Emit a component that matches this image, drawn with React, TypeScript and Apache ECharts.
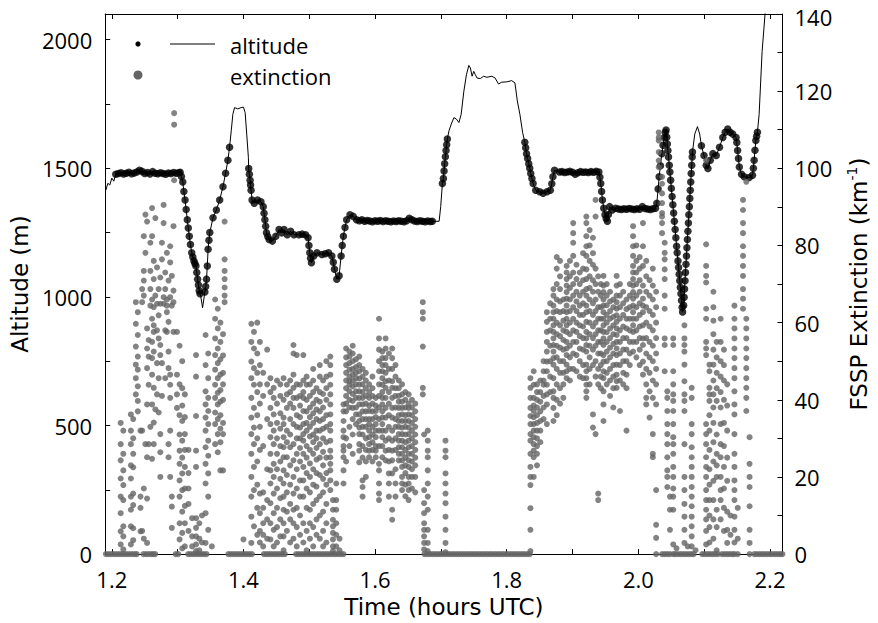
import React, { useEffect, useRef } from 'react';
import * as echarts from 'echarts';

// ---- axis ticks / labels ----
const timeLabelValues = [1.2, 1.4, 1.6, 1.8, 2.0, 2.2];
const timeTickValues = [1.2, 1.3, 1.4, 1.5, 1.6, 1.7, 1.8, 1.9, 2.0, 2.1, 2.2];
const altLabelValues = [0, 500, 1000, 1500, 2000];
const altTickValues = [0, 250, 500, 750, 1000, 1250, 1500, 1750, 2000];
const extLabelValues = [0, 20, 40, 60, 80, 100, 120, 140];
const extTickValues = [0, 10, 20, 30, 40, 50, 60, 70, 80, 90, 100, 110, 120, 130, 140];

// ---- altitude trace [time (h UTC), altitude (m)] ----
const altitudeTrace: [number, number][] = [
  [1.191, 1415], [1.194, 1442], [1.197, 1435], [1.2, 1462], [1.203, 1450], [1.206, 1477],
  [1.21, 1480], [1.214, 1483], [1.218, 1478], [1.222, 1481], [1.226, 1485], [1.23, 1479],
  [1.234, 1482], [1.238, 1486], [1.242, 1492], [1.246, 1488], [1.25, 1480], [1.254, 1484],
  [1.258, 1478], [1.262, 1487], [1.266, 1481], [1.27, 1479], [1.274, 1483], [1.278, 1480],
  [1.282, 1477], [1.286, 1482], [1.29, 1480], [1.294, 1484], [1.298, 1481], [1.302, 1483],
  [1.3038, 1485], [1.3058, 1468], [1.3078, 1447], [1.3095, 1410], [1.3113, 1377], [1.313, 1340],
  [1.3147, 1300], [1.3162, 1268], [1.3177, 1236], [1.3195, 1204], [1.3214, 1172], [1.3231, 1155],
  [1.3248, 1140], [1.3263, 1130], [1.3278, 1120], [1.3291, 1095], [1.3304, 1069], [1.3316, 1046],
  [1.3328, 1024], [1.334, 1012], [1.3353, 1000], [1.3379, 958], [1.3414, 1019], [1.3426, 1040],
  [1.3439, 1069], [1.3451, 1120], [1.3463, 1185], [1.3476, 1220], [1.3489, 1250], [1.3538, 1308],
  [1.3589, 1338], [1.3639, 1377], [1.3689, 1428], [1.3729, 1481], [1.3764, 1531], [1.3789, 1582],
  [1.3815, 1646], [1.3839, 1710], [1.3865, 1736], [1.3914, 1731], [1.3965, 1736], [1.4, 1738],
  [1.4026, 1717], [1.405, 1633], [1.4075, 1543], [1.408, 1499], [1.409, 1477], [1.4101, 1454],
  [1.4108, 1435], [1.4116, 1415], [1.4131, 1377], [1.4165, 1364], [1.4215, 1377], [1.4266, 1370],
  [1.4301, 1351], [1.4313, 1325], [1.4326, 1300], [1.4338, 1275], [1.435, 1249], [1.437, 1235],
  [1.4391, 1223], [1.444, 1217], [1.4492, 1236], [1.4541, 1262], [1.4582, 1249], [1.4617, 1262],
  [1.4666, 1242], [1.4717, 1255], [1.4767, 1242], [1.4842, 1242], [1.4892, 1244], [1.4943, 1242],
  [1.4982, 1230], [1.4995, 1200], [1.5008, 1172], [1.502, 1150], [1.5033, 1133], [1.5068, 1159],
  [1.5117, 1172], [1.5192, 1165], [1.5243, 1168], [1.5293, 1172], [1.5343, 1159], [1.5365, 1135],
  [1.5383, 1108], [1.5418, 1069], [1.5454, 1082], [1.5484, 1159], [1.5501, 1200], [1.5519, 1236],
  [1.5543, 1270], [1.5568, 1300], [1.5619, 1319], [1.5669, 1313], [1.5719, 1300], [1.576, 1296],
  [1.58, 1300], [1.584, 1294], [1.588, 1297], [1.592, 1295], [1.596, 1292], [1.6, 1296],
  [1.604, 1294], [1.608, 1297], [1.612, 1293], [1.616, 1296], [1.62, 1294], [1.624, 1292],
  [1.628, 1295], [1.632, 1293], [1.636, 1296], [1.64, 1294], [1.644, 1292], [1.648, 1296],
  [1.652, 1306], [1.656, 1300], [1.66, 1295], [1.664, 1293], [1.668, 1296], [1.672, 1294],
  [1.676, 1292], [1.68, 1295], [1.684, 1293], [1.687, 1294], [1.6973, 1294], [1.6997, 1351],
  [1.7023, 1441], [1.7038, 1460], [1.7048, 1490], [1.7057, 1518], [1.7068, 1545], [1.7078, 1569],
  [1.7088, 1592], [1.7098, 1614], [1.7123, 1646], [1.7158, 1672], [1.7198, 1697], [1.7237, 1691],
  [1.7274, 1678], [1.7308, 1710], [1.7349, 1800], [1.7388, 1864], [1.7424, 1900], [1.7448, 1890],
  [1.7474, 1858], [1.7499, 1877], [1.7523, 1864], [1.7549, 1851], [1.7599, 1849], [1.7649, 1858],
  [1.7699, 1854], [1.7774, 1858], [1.7824, 1851], [1.7875, 1828], [1.7925, 1835], [1.8, 1836],
  [1.8075, 1841], [1.8125, 1832], [1.8161, 1762], [1.82, 1710], [1.8241, 1640], [1.8275, 1601],
  [1.8288, 1580], [1.8301, 1557], [1.8318, 1538], [1.8335, 1518], [1.835, 1500], [1.8365, 1480],
  [1.8383, 1460], [1.8401, 1441], [1.8441, 1415], [1.8501, 1409], [1.8552, 1403], [1.8612, 1409],
  [1.8662, 1415], [1.8685, 1440], [1.8702, 1467], [1.8726, 1492], [1.8801, 1486], [1.884, 1487],
  [1.888, 1484], [1.892, 1486], [1.896, 1488], [1.9, 1485], [1.904, 1477], [1.908, 1483],
  [1.912, 1487], [1.916, 1485], [1.92, 1486], [1.924, 1484], [1.928, 1487], [1.932, 1485],
  [1.936, 1488], [1.94, 1486], [1.9416, 1465], [1.9429, 1441], [1.9442, 1410], [1.9454, 1377],
  [1.9474, 1345], [1.9493, 1319], [1.9511, 1305], [1.9529, 1294], [1.9546, 1320], [1.9564, 1351],
  [1.9604, 1338], [1.9654, 1345], [1.97, 1342], [1.974, 1340], [1.978, 1343], [1.982, 1341],
  [1.986, 1344], [1.99, 1342], [1.994, 1340], [1.998, 1343], [2.002, 1341], [2.006, 1351],
  [2.01, 1344], [2.014, 1342], [2.018, 1340], [2.022, 1343], [2.026, 1345], [2.0281, 1364],
  [2.03, 1420], [2.0316, 1467], [2.0336, 1510], [2.0356, 1557], [2.0375, 1590], [2.0395, 1620],
  [2.041, 1640], [2.0421, 1649], [2.0431, 1621], [2.044, 1595], [2.0449, 1569], [2.0458, 1544],
  [2.047, 1512], [2.0479, 1486], [2.049, 1454], [2.0501, 1422], [2.0513, 1390], [2.0524, 1358],
  [2.0536, 1326], [2.0547, 1294], [2.0559, 1262], [2.057, 1230], [2.0581, 1197], [2.059, 1172],
  [2.0602, 1140], [2.0611, 1114], [2.062, 1088], [2.0629, 1063], [2.0638, 1037], [2.0647, 1012],
  [2.0656, 986], [2.0665, 960], [2.0672, 941], [2.0688, 967], [2.0695, 999], [2.0702, 1031],
  [2.0709, 1063], [2.0716, 1095], [2.0724, 1127], [2.0731, 1159], [2.0738, 1191], [2.0745, 1223],
  [2.0753, 1255], [2.076, 1287], [2.0767, 1319], [2.0775, 1351], [2.0782, 1383], [2.0789, 1415],
  [2.0796, 1447], [2.0803, 1480], [2.0811, 1512], [2.0818, 1544], [2.0822, 1563], [2.0857, 1633],
  [2.0898, 1662], [2.0932, 1633], [2.0958, 1588], [2.0997, 1550], [2.1032, 1512], [2.1057, 1499],
  [2.1093, 1531], [2.1132, 1557], [2.1183, 1550], [2.1233, 1582], [2.1283, 1620], [2.1319, 1640],
  [2.1358, 1653], [2.1394, 1640], [2.1433, 1633], [2.1484, 1620], [2.1496, 1600], [2.1508, 1569],
  [2.1521, 1538], [2.1534, 1505], [2.1568, 1477], [2.1609, 1467], [2.1684, 1464], [2.1734, 1473],
  [2.1747, 1500], [2.1759, 1531], [2.1772, 1570], [2.1785, 1608], [2.1797, 1625], [2.1809, 1640],
  [2.1835, 1710], [2.188, 1954], [2.1925, 2100], [2.197, 2220],
];

// time spans where the altitude samples are marked with dots
const cloudSpans: [number, number][] = [
  [1.205, 1.3345], [1.34, 1.379], [1.4078, 1.6875], [1.7023, 1.7098], [1.8275, 2.0822], [2.0958, 2.181],
];

// ---- FSSP extinction (km^-1), grouped by time column ----
const extinctionColumns: [number, number[]][] = [
  [1.2135, [34, 28.5, 24.3, 19.6, 14.9, 10.6, 5.9, 2.5]],
  [1.2175, [32, 26, 21.7, 17.9, 14, 7.2, 4.6, 1.2]],
  [1.229, [36.2, 32, 28.5, 23, 19.6, 14.9, 11.5, 7.2, 2.5]],
  [1.2325, [35, 30, 26, 22.5, 15.7, 12.7, 6.7, 3.6]],
  [1.2365, [65.3, 59.7, 53.8, 49.1, 45.6, 41.4]],
  [1.2395, [62.7, 56.8, 51.2, 47.8, 43.5, 39.7, 37]],
  [1.2436, [32, 14.9, 12, 5.9]],
  [1.2461, [68.7, 65.3, 32, 6]],
  [1.2486, [82.4, 73.4, 70.9, 67, 17, 4]],
  [1.2511, [88, 78.1, 28.5]],
  [1.2536, [86.2, 58.5, 53.3, 48.2, 38.8, 25.1, 14.4, 2.9]],
  [1.256, [55.5, 51.2, 43.9, 28.5]],
  [1.2586, [80.7, 73.4, 68.7, 64.4, 33]],
  [1.2612, [89.7, 82.4, 66, 61, 55, 50.8, 46.5, 38.8, 24.7]],
  [1.2637, [76, 71.3, 64, 59.3, 57.6, 52.5, 43.1, 34.1, 28.5]],
  [1.2662, [87.1, 67, 37.5]],
  [1.2687, [74.3, 64.9, 58, 49.5, 41.4]],
  [1.2712, [68.7, 61.9, 55.9, 45.6, 36.7]],
  [1.2737, [71.7, 64.9, 54.2, 51.6, 31.1, 26.4, 20]],
  [1.2762, [80.7, 76.4, 49.5, 41]],
  [1.2787, [90.5, 85.8, 66.6, 64.9]],
  [1.2812, [73, 68.7, 58, 45.6]],
  [1.2837, [78.1, 64.4, 66, 62.7, 57.6]],
  [1.2862, [70.9, 60.2, 52.5, 48.2, 28.5, 25.1]],
  [1.2887, [79.8, 75.6, 66.6, 46.5, 43.9, 40.5, 32, 20]],
  [1.2912, [72.1, 64.4, 14.9, 12.3, 6.8]],
  [1.2937, [85, 68.3, 65.3, 57.6]],
  [1.2947, [114.3, 111.3, 96.9]],
  [1.299, [57.6, 46.5, 41.4, 37.9]],
  [1.303, [54, 44, 36, 31, 26.8, 23.4, 19.1, 14.9, 8, 3.8]],
  [1.307, [50, 43, 38.5, 34.5, 29.4, 25, 20.9, 16.6, 11, 5.5, 1.5]],
  [1.311, [41.4, 35.5, 31.1, 27, 22.6, 17, 12.5, 8, 2]],
  [1.3165, [27, 21, 17, 13, 6]],
  [1.322, [9.3, 4.6, 2]],
  [1.328, [51.6, 46, 35.8, 26.8, 22.6, 9.3, 6.8, 4.6, 2.5, 0.8]],
  [1.333, [8, 4, 1]],
  [1.337, [10, 3]],
  [1.3425, [56.8, 49, 42.2, 38.8, 35.4, 32, 27.7, 23.4, 18.3, 10.6, 2.9]],
  [1.3465, [52, 45.6, 40.5, 37.1, 33.7, 29.4, 25.5, 20.9, 14.9, 6.3]],
  [1.352, [2]],
  [1.357, [66, 61, 55.9, 51.6, 47.8, 43.9, 40.5, 36.7, 33.7, 28.5]],
  [1.361, [63.6, 58.5, 53.3, 49.5, 45.6, 41.8, 38.8, 35, 31.1, 26.4]],
  [1.365, [60, 55, 50.5, 46.5, 42.5, 39.5, 36, 32.5, 29, 21.7]],
  [1.369, [57, 51.5, 47, 44, 40, 34, 31.1, 21.7]],
  [1.3714, [86.2, 76.4, 73.4, 71.3, 69.1, 67, 65.3]],
  [1.4, [3.8]],
  [1.412, [59.7, 55, 49.9, 45.6, 40.5, 35.4, 31.1, 26, 20, 14.9, 9.7, 2.9]],
  [1.416, [57.6, 53.3, 48.2, 43.9, 37.9, 32.8, 28.5, 22.6, 16.6, 7.2]],
  [1.421, [60, 52, 47, 42, 36, 30, 24, 18, 12, 5]],
  [1.425, [55, 49, 44, 39, 33, 27, 15.7, 10.6, 6, 3]],
  [1.43, [47, 41, 28, 16, 12, 8, 5, 2]],
  [1.436, [53, 44, 35, 22, 14, 9, 4]],
  [1.441, [45.6, 42, 37.9, 33.7, 30.3, 26, 21.7, 18.3, 13.2, 8, 3.8]],
  [1.446, [43.1, 40.5, 36.2, 32, 28.5, 23.4, 20, 15.7, 10.6, 6.3, 2]],
  [1.451, [45, 39, 34, 30, 26, 22, 17, 12, 7, 3]],
  [1.456, [44, 41, 36.5, 32.5, 28, 24, 19.5, 14.5, 9, 4.6]],
  [1.461, [45.6, 40, 35.4, 33.7, 30.3, 27.7, 25.1, 21.7, 18.3, 14.9, 11.5, 8, 4.6, 1]],
  [1.466, [43.9, 41.4, 37.9, 32, 29, 25.1, 20.5, 16, 11, 6]],
  [1.471, [45, 42, 39, 35, 31, 27.7, 23, 18, 13, 9, 3]],
  [1.476, [54.2, 52, 46.5, 43.1, 40.5, 37.9, 33.7, 28.5, 24.3, 20, 15.7, 11.5, 8, 4]],
  [1.481, [51.6, 44, 40.5, 36, 33, 30, 26, 22, 17, 12, 7, 2]],
  [1.486, [43.9, 41, 38.5, 35.5, 32.8, 30, 27.5, 24, 19.1, 14.9, 10, 5]],
  [1.491, [51.6, 45, 42, 40.5, 37.1, 33.7, 31.1, 29.4, 26, 22.6, 19.1, 14.9, 8, 3]],
  [1.496, [46, 43.9, 40, 37, 34, 32, 28, 25, 21, 17, 12, 6, 1]],
  [1.501, [44, 41, 38, 35.5, 33, 30.5, 27, 23.5, 20, 16, 11.5, 8, 4]],
  [1.506, [48, 45, 42, 39, 36.5, 34, 31, 29, 26, 22, 18, 13, 7, 2]],
  [1.511, [43, 40, 37.5, 35, 32, 30, 27.5, 24.5, 21, 17.5, 14, 9, 5]],
  [1.516, [49, 46, 42, 39.5, 37, 34.5, 32, 28.5, 25, 20.5, 15, 10, 4]],
  [1.521, [45, 41.5, 38, 35, 32.5, 30, 26.5, 23, 19.5, 16, 11, 6, 2]],
  [1.526, [50, 46, 43, 40, 36, 33, 29, 25, 21, 18, 13, 8, 3]],
  [1.532, [51.2, 49, 46.5, 43.9, 41.4, 38.8, 36.2, 33.7, 32, 29.4, 26.8, 25.1, 23.4, 21.7, 19.1, 16.6]],
  [1.536, [14, 11.5, 8.9, 7.2, 5.5, 3.8, 2, 0.8]],
  [1.541, [18.3, 14, 11.5, 8, 5, 2]],
  [1.546, [4, 1]],
  [1.552, [38.8, 37, 34.5, 32, 30.3, 28, 26.8, 25.1, 21.7, 18.3]],
  [1.556, [53.3, 51, 49, 47, 45, 43, 41, 39, 37, 30, 24]],
  [1.561, [52.5, 51.2, 49.5, 47.8, 46, 44.8, 43.9, 42.2, 40, 38, 33, 28]],
  [1.566, [54, 52, 50, 48, 46.5, 45, 43.5, 41.5, 39.7, 37.9, 35, 31, 26]],
  [1.571, [50.5, 48.5, 47, 45.6, 44, 42.2, 40.5, 38, 36.2, 33.7]],
  [1.576, [51.2, 49, 47.4, 45.5, 43.9, 42.2, 40.5, 38.8, 36.2, 34.5, 32.8, 31.1, 28.5, 26.8, 23.8]],
  [1.581, [48, 46, 44, 42, 40.5, 38.8, 37, 35, 33, 31, 28, 25, 19.1, 17.4, 14.9]],
  [1.586, [47, 45, 43, 41, 39, 37, 35, 33, 30, 27, 24, 20]],
  [1.591, [44, 42, 40.5, 38.5, 37.1, 35, 33.7, 32, 30.3, 28.5, 26.8, 25.1]],
  [1.596, [46, 43, 41, 39, 37, 35, 33, 31, 29, 27, 24]],
  [1.601, [40.5, 38.5, 37.1, 35.5, 33.7, 32, 30.3, 28, 26.8, 25.1]],
  [1.606, [61, 55.9, 53, 50, 47.4, 44, 41, 38, 35, 32, 28, 23.4, 21.7, 18.3, 15.7, 14]],
  [1.611, [52.5, 50.8, 49, 47.4, 45.6, 43.9, 42, 40.5, 38.8, 37, 35.4, 33.7, 32, 30.3, 28, 25.1]],
  [1.616, [55.9, 53.3, 50.8, 49, 47, 44.8, 43.1, 40.5, 37.9, 35.4, 32, 29.4, 26.8, 24.3]],
  [1.621, [52, 48, 45, 42, 39, 36, 33, 30, 27, 24, 20.9, 18.3, 14.9]],
  [1.626, [53.3, 50.8, 48, 44.8, 43.1, 40.5, 37.9, 35.4, 32, 29.4, 26.8, 24.3, 20.9, 11.5, 8.9]],
  [1.631, [49, 46, 43, 41, 38, 35, 33, 30, 27, 22, 18.3, 14.9]],
  [1.636, [45, 43, 41, 39.5, 37.9, 36, 34.5, 33, 31.1, 29.4, 27.7, 26, 24.3]],
  [1.641, [44, 41.4, 39.5, 37.9, 36.2, 34.5, 32.8, 31.1, 29.4, 27.7, 26, 24.3, 22.6, 20, 18.3, 16.6]],
  [1.646, [42, 40, 38, 36, 34.5, 33, 31, 29, 27, 25, 23, 21, 18, 15]],
  [1.651, [41.4, 39, 37.9, 36.2, 34.5, 32.8, 31.1, 29.4, 27.7, 26, 24.3, 22.6, 20, 18.3, 16.6, 14]],
  [1.656, [40, 38, 36, 34, 32, 30, 28, 26, 24, 22, 20, 17]],
  [1.661, [39, 37, 35, 33, 31, 29, 27, 25, 23, 20, 16]],
  [1.6725, [65.3, 62.7, 61, 53.8, 43.1, 41.4]],
  [1.6745, [31, 16.6, 13.2, 10.6, 8, 6.3, 4.6, 2.9, 1.2]],
  [1.68, [32, 29.4, 26.8, 25.1, 21.7, 18.3, 14.9, 11.5, 6.3, 2.9, 0.8]],
  [1.707, [29.4, 26.8, 25.1, 20.9, 18.3, 15.7, 13.2, 9.7, 6.3, 2.9, 0.5]],
  [1.836, [45.6, 43.1, 40.5, 37.9, 35.8, 33.7, 31.1, 29.4, 26, 22.6, 20, 17.9, 11.9, 6.3, 0.8]],
  [1.841, [47.4, 43.9, 40.5, 38.5, 37.1, 35.5, 33.7, 32, 30.3, 28.5, 26.8, 25.1, 20]],
  [1.846, [44, 42, 40, 38, 36, 34, 32, 30, 28, 26, 23]],
  [1.851, [45, 42, 39.5, 37, 34.5, 32, 29]],
  [1.856, [50, 47.4, 45, 43.9, 41, 38, 35]],
  [1.861, [62.7, 60.2, 57.6, 55, 52.5, 49.9, 47.4, 43.9, 41.4, 38.8, 33.7]],
  [1.866, [65, 61, 58, 54, 50, 46, 42]],
  [1.871, [68.7, 67, 64.4, 62.7, 61, 59.3, 57.6, 55.9, 54.2, 52.5, 50.8, 49.1, 45.6, 42.2, 40.5, 37.9, 34.5]],
  [1.876, [77, 74, 70, 66, 63, 60, 57, 54, 51, 48, 44, 40, 36]],
  [1.881, [76, 72, 68.7, 65.5, 62.7, 59.3, 56.5, 53.5, 50, 47, 43, 39]],
  [1.886, [66, 63, 60.5, 58, 55.5, 53, 50, 47, 44, 40.5]],
  [1.891, [74.7, 73, 71.3, 69.6, 67.9, 66.2, 64.4, 62.7, 61, 59.3, 57.6, 55, 53.3, 51.6, 49.1, 47.4, 45.6]],
  [1.896, [76, 72, 69, 66, 63, 60, 57, 54, 51, 48, 45]],
  [1.901, [85.8, 83.2, 80.7, 77.3, 73, 70, 67, 64, 61, 58, 55, 52, 48]],
  [1.906, [75, 71.3, 68, 65.5, 63, 60, 57.6, 55, 51.6, 47.4]],
  [1.911, [73, 70, 67, 64.4, 62, 59.3, 56.5, 53.3, 50, 46]],
  [1.916, [78, 74, 71, 68, 65, 62, 59, 56, 53, 49, 45.6]],
  [1.921, [87.5, 85.8, 82.4, 79.8, 77.3, 73.8, 71.3, 68.7, 67, 64.4, 62.7, 60.2, 57.6, 55.9, 54.2, 52.5, 49.1, 47.4, 45.6, 43.9, 42.2, 40.5]],
  [1.926, [84, 80, 76, 72, 69, 66, 63, 60, 57, 54, 51, 48, 44]],
  [1.931, [82, 78, 75, 71, 68, 65, 62, 59, 56, 53, 49, 36.2, 32.8]],
  [1.935, [91.8, 87.5, 74, 70, 66, 63, 60, 57, 54, 50, 46, 31.1]],
  [1.939, [72, 68, 64, 61, 58, 55, 52, 48, 44, 15.7, 14]],
  [1.943, [70, 67, 64, 61, 58, 55, 52, 49, 46, 43]],
  [1.947, [72.1, 69.6, 67.9, 66, 64.4, 62.7, 61, 59.3, 57.6, 55.9, 54.2, 51.6, 49.9, 47.4, 45.6, 42.2, 38.8, 34.5]],
  [1.952, [70, 67, 64.5, 62, 60, 57.5, 55, 52.5, 50, 47, 44]],
  [1.957, [68, 65.5, 63, 61, 58.5, 56, 53.5, 51, 48, 45, 41]],
  [1.962, [66, 64, 61.5, 59.3, 57, 54.5, 52, 49, 46, 43, 38]],
  [1.967, [72.1, 69.6, 67, 65.3, 63.6, 61.9, 60.2, 58.5, 56.8, 55, 53.3, 51.6, 49.1, 46.5, 44.8, 43.1]],
  [1.972, [70, 67, 64, 61, 58, 55, 52, 49, 45, 37.1]],
  [1.977, [68, 65, 62, 59, 56, 53, 50, 47, 44]],
  [1.982, [66, 63.5, 61, 58.5, 56, 53, 50, 46.5, 43, 32]],
  [1.987, [70, 67, 64, 61, 58, 55, 52, 49]],
  [1.992, [85, 82.4, 79.8, 77.3, 74.7, 73, 71.3, 69.6, 67.9, 66.2, 64.4, 62.7, 61, 59.3, 57.6, 55, 52.5]],
  [1.997, [80, 76, 73, 70, 67, 64, 61, 58, 55, 51]],
  [2.002, [77, 74, 71, 68, 65, 62, 59, 56, 53, 49]],
  [2.007, [85.8, 79.8, 74.7, 69.6, 66.2, 64.4, 62.7, 59.3, 55.9, 54.2, 49.9, 46.5]],
  [2.012, [76, 72, 68, 64, 60, 56, 52, 48, 44, 40.5, 38.8]],
  [2.017, [71, 67, 63, 59, 55, 51, 47, 42.2, 35.4]],
  [2.022, [74, 69.6, 66, 62, 58, 54, 50, 45, 40.5, 31.1, 26, 25.1]],
  [2.027, [68, 64, 60, 56, 52, 48, 44, 38.8, 16.6, 7.6, 4.2]],
  [2.031, [109.3, 108, 107.2, 104.2, 102, 100.3]],
  [2.036, [97.8, 96, 93.5, 91, 88.4, 87.5, 85.8, 83.2]],
  [2.04, [80.7, 78.1, 76.4, 73.8, 71.3, 67, 63.6, 55.9, 54.2, 47.4]],
  [2.044, [42.2, 40.5, 37.1, 33.7, 31.1, 28.5, 25.1, 21.7, 20, 17.4]],
  [2.048, [14.9, 11.5, 6.3]],
  [2.053, [55.9, 54.2, 47.4, 44, 41.4, 39.7, 37.1, 33.7, 30.3, 28.5, 26, 22.6, 20, 17, 14.9, 11.5, 2.5]],
  [2.058, [1.5]],
  [2.07, [59.3, 55.9, 54.2, 52.5, 49.1, 44.8, 41.4, 39.7, 37.1, 28.5, 20, 16.6, 13, 9.7, 6.3, 2.9]],
  [2.075, [2]],
  [2.081, [43.1, 40.5, 33.7, 31.1, 27.7, 25.1, 22.6, 20, 17.4, 14.9, 12.4, 9.7, 7.2, 4.6, 2]],
  [2.087, [1]],
  [2.103, [102, 80.3, 74.7, 72.1, 70.4, 63.6, 61, 55, 53.3, 51.6, 33.7, 31.1, 28.5, 25.1, 22.6, 20, 16.6, 14, 11.5, 9, 6, 2.5]],
  [2.108, [49.1, 47.4, 43.1, 41.4, 39.7, 36, 32, 27, 22, 18, 14, 10, 7, 3]],
  [2.114, [68, 64, 60.5, 57, 53, 49.1, 45, 41.4, 38, 34, 29, 24, 19, 14, 9, 4]],
  [2.119, [55, 51, 47, 43, 39.7, 31, 26, 23, 20, 11.5, 7, 1]],
  [2.125, [61, 55, 50, 46, 42, 38, 33.7, 28.5, 25.1, 20, 16.6, 14, 9]],
  [2.13, [53, 49, 45, 40, 34, 28, 22.6, 17, 12, 6]],
  [2.135, [44, 38.5, 32, 25, 19, 11, 6.3, 2.9]],
  [2.14, [10, 5]],
  [2.146, [64.4, 61, 58.5, 55.9, 53.3, 50.8, 48.2, 45.6, 42.2, 38.8, 36.2, 31.1, 26, 22.6, 19.1, 16.6, 14, 9.7, 6.3, 3]],
  [2.151, [12, 4]],
  [2.159, [91.8, 89.2, 85.8, 83.2, 79.8, 77.3, 74.7, 72.1, 68.7, 66.2, 63.6]],
  [2.164, [96.5, 61, 58.5, 55.9, 53.3, 50.8, 48.2, 45.6, 43.1, 40.5, 37.1]],
  [2.169, [30.3, 23.4, 20, 17.4, 12.4, 6.3, 2.9]],
];

// times where the extinction reads zero (dots along the baseline)
const zeroExtinctionTimes: number[] = [
  1.191, 1.195, 1.199, 1.203, 1.207, 1.211, 1.215, 1.219, 1.223, 1.227, 1.231, 1.235, 1.238,
  1.248, 1.252, 1.256, 1.26, 1.263, 1.266, 1.297, 1.301,
  1.316, 1.32, 1.324, 1.328, 1.332, 1.336, 1.34, 1.344,
  1.377, 1.381, 1.385, 1.389, 1.393, 1.397, 1.401, 1.405, 1.409, 1.413,
  1.431, 1.435, 1.439, 1.443, 1.447, 1.451, 1.455, 1.459, 1.463,
  1.48, 1.484, 1.488, 1.492, 1.496, 1.5, 1.504, 1.508, 1.512, 1.516, 1.52, 1.524, 1.528, 1.532,
  1.536, 1.54, 1.544, 1.548, 1.552,
  1.675, 1.679, 1.683, 1.687, 1.691, 1.695, 1.699, 1.703, 1.707, 1.711, 1.715, 1.719, 1.723,
  1.727, 1.731, 1.735, 1.739, 1.743, 1.747, 1.751, 1.755, 1.759, 1.763, 1.767, 1.771, 1.775,
  1.779, 1.783, 1.787, 1.791, 1.795, 1.799, 1.803, 1.807, 1.811, 1.815, 1.819, 1.823, 1.827,
  1.831, 1.835,
  2.027, 2.036, 2.04, 2.044, 2.048, 2.053,
  2.056, 2.06, 2.064, 2.068, 2.072, 2.076, 2.08, 2.084,
  2.097, 2.101, 2.105, 2.109, 2.113, 2.117, 2.121,
  2.127, 2.131, 2.135, 2.139, 2.143, 2.146, 2.151,
  2.169, 2.176, 2.18, 2.184, 2.188, 2.192, 2.196, 2.2, 2.204, 2.208, 2.212, 2.216, 2.219,
];

const FONT = '"Open Sans", "Noto Sans", sans-serif';
const TITLE_FONT = '"DejaVu Sans", "Open Sans", sans-serif';
const GRAY = '#646464';

function buildOption(): echarts.EChartsOption {
  const inCloud = (t: number) => cloudSpans.some(([a, b]) => t >= a && t <= b);
  const altDots = altitudeTrace.filter(([t]) => inCloud(t));
  const extPoints: [number, number][] = [];
  extinctionColumns.forEach(([t, vals]) => vals.forEach((v) => extPoints.push([t, v])));
  zeroExtinctionTimes.forEach((t) => extPoints.push([t, 0]));

  const axisLine = { show: true, onZero: false, lineStyle: { color: '#000', width: 1 } };
  const labelStyle = { color: '#000', fontSize: 22, fontFamily: FONT, lineHeight: 20 };
  const tick = (values: number[]) => ({
    show: true, inside: true, length: 5, customValues: values, lineStyle: { color: '#000', width: 1 },
  });
  const extMax = extLabelValues[extLabelValues.length - 1];

  return {
    animation: false,
    backgroundColor: '#fff',
    grid: { left: 105, right: 90, top: 12, bottom: 65 },
    xAxis: [
      {
        type: 'value',
        min: 1.19,
        max: 2.219,
        position: 'bottom',
        axisLine,
        splitLine: { show: false },
        axisTick: tick(timeTickValues),
        axisLabel: {
          ...labelStyle,
          margin: 15,
          customValues: timeLabelValues,
          formatter: (v: number) => v.toFixed(1),
        },
        name: 'Time (hours UTC)',
        nameLocation: 'middle',
        nameGap: 40,
        nameTextStyle: { color: '#000', fontSize: 23, fontFamily: TITLE_FONT, lineHeight: 22 },
      },
      {
        type: 'value',
        min: 1.19,
        max: 2.219,
        position: 'top',
        axisLine,
        splitLine: { show: false },
        axisTick: tick(timeTickValues),
        axisLabel: { show: false },
      },
    ],
    yAxis: [
      {
        type: 'value',
        min: 0,
        max: 2100,
        position: 'left',
        axisLine,
        splitLine: { show: false },
        axisTick: tick(altTickValues),
        axisLabel: { ...labelStyle, margin: 13, customValues: altLabelValues, formatter: (v: number) => String(v) },
        name: 'Altitude (m)',
        nameLocation: 'middle',
        nameGap: 65,
        nameTextStyle: { color: '#000', fontSize: 23, fontFamily: TITLE_FONT },
      },
      {
        type: 'value',
        min: 0,
        max: 140,
        position: 'right',
        axisLine,
        splitLine: { show: false },
        axisTick: tick(extTickValues),
        axisLabel: {
          ...labelStyle,
          margin: 12,
          customValues: extLabelValues,
          formatter: (v: number) => (v === extMax ? `{t|${v}}` : String(v)),
          rich: {
            t: { fontSize: 22, fontFamily: FONT, color: '#000', lineHeight: 20, padding: [6, 0, 0, 0] },
          },
        },
        name: '{a|FSSP Extinction (km}{s|-1}{a|)}',
        nameLocation: 'middle',
        nameGap: 62,
        nameTextStyle: {
          color: '#000',
          fontSize: 23,
          fontFamily: TITLE_FONT,
          rich: {
            a: { fontSize: 23, fontFamily: TITLE_FONT, color: '#000', lineHeight: 28 },
            s: { fontSize: 14, fontFamily: TITLE_FONT, color: '#000', verticalAlign: 'top', lineHeight: 28 },
          },
        },
      },
    ],
    graphic: [
      { type: 'circle', shape: { cx: 138, cy: 44, r: 2.6 }, style: { fill: '#000' }, z: 100 },
      { type: 'line', shape: { x1: 170, y1: 44, x2: 215, y2: 44 }, style: { stroke: '#000', lineWidth: 1 }, z: 100 },
      {
        type: 'text', x: 230, y: 45, z: 100,
        style: { text: 'altitude', fontSize: 22, fontFamily: FONT, fill: '#000', verticalAlign: 'middle', align: 'left' },
      },
      { type: 'circle', shape: { cx: 138, cy: 75, r: 4.5 }, style: { fill: GRAY }, z: 100 },
      {
        type: 'text', x: 230, y: 76, z: 100,
        style: { text: 'extinction', fontSize: 22, fontFamily: FONT, fill: '#000', verticalAlign: 'middle', align: 'left' },
      },
    ],
    series: [
      {
        name: 'altitude',
        type: 'line',
        xAxisIndex: 0,
        yAxisIndex: 0,
        data: altitudeTrace,
        showSymbol: false,
        symbol: 'none',
        lineStyle: { color: '#000', width: 1 },
        clip: true,
        silent: true,
        z: 2,
      },
      {
        name: 'altitude dots',
        type: 'scatter',
        xAxisIndex: 0,
        yAxisIndex: 0,
        data: altDots,
        symbolSize: 7.5,
        itemStyle: { color: '#000' },
        silent: true,
        z: 3,
      },
      {
        name: 'extinction',
        type: 'scatter',
        xAxisIndex: 0,
        yAxisIndex: 1,
        data: extPoints,
        symbolSize: 6,
        itemStyle: { color: GRAY },
        silent: true,
        z: 4,
      },
    ],
  };
}

export default function App() {
  const ref = useRef<HTMLDivElement>(null);
  useEffect(() => {
    if (!ref.current) return;
    const chart = echarts.init(ref.current, null, { renderer: 'svg' });
    chart.setOption(buildOption());
    return () => chart.dispose();
  }, []);
  return (
    <div
      ref={ref}
      style={{ position: 'fixed', left: 0, top: 0, width: 878, height: 623, background: '#fff' }}
    />
  );
}
